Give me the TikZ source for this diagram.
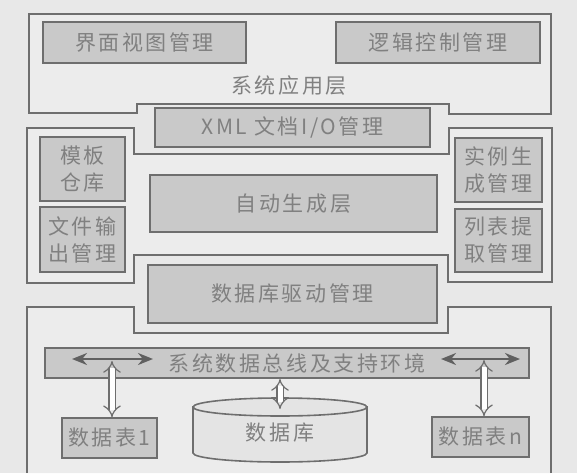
\documentclass[tikz,border=0pt]{standalone}
\usepackage{fontspec}
\newfontfamily\cjkfont[LetterSpace=12]{Noto Sans CJK SC}
\usetikzlibrary{arrows.meta}
\definecolor{bgc}{HTML}{E8E8E8}
\definecolor{outc}{HTML}{ECECEC}
\definecolor{boxc}{HTML}{C9C9C9}
\definecolor{linec}{HTML}{6E6E6E}
\definecolor{txtc}{HTML}{808080}
\definecolor{darkc}{HTML}{606060}
\definecolor{cylc}{HTML}{E4E4E4}
\tikzset{
  outer/.style={draw=linec, line width=1.6pt, fill=outc, line join=miter},
  gbox/.style={draw=linec, line width=1.6pt, fill=boxc, text=txtc,
    font=\cjkfont\fontsize{21}{27}\selectfont, inner sep=0pt, align=center},
  lbl/.style={text=txtc, font=\cjkfont\fontsize{21}{27}\selectfont, inner sep=0pt},
  hollow/.style={draw=linec, line width=1.2pt, double=white, double distance=5pt,
    {Implies}-{Implies}},
  busarrow/.style={draw=darkc, line width=2.4pt,
    {Stealth[length=15pt,width=12pt]}-{Stealth[length=15pt,width=12pt]}},
  cyl/.style={draw=linec, line width=1.6pt, fill=cylc}
}
\begin{document}
\begin{tikzpicture}[x=1pt,y=-1pt]
\fill[bgc] (0,0) rectangle (577,473);
\useasboundingbox (0,0) rectangle (577,473);
% outer layers
\path[outer] (29,14) -- (551,14) -- (551,114) -- (449,114) -- (449,104)
  -- (137,104) -- (137,113) -- (29,113) -- cycle;
\path[outer] (27,128) -- (134,128) -- (134,154) -- (449,154) -- (449,128)
  -- (552,128) -- (552,282) -- (448,282) -- (448,255) -- (134,255)
  -- (134,283) -- (27,283) -- cycle;
\fill[outc] (27,473) -- (27,307) -- (134,307) -- (134,333) -- (448,333)
  -- (448,307) -- (551,307) -- (551,473) -- cycle;
\draw[draw=linec, line width=1.6pt] (27,473) -- (27,307) -- (134,307) -- (134,333) -- (448,333)
  -- (448,307) -- (551,307) -- (551,473);
% top layer
\node[gbox, minimum width=203pt, minimum height=41pt] (view) at (144.5,42.5) {界面视图管理};
\node[gbox, minimum width=204pt, minimum height=41pt] (logic) at (438,42.5) {逻辑控制管理};
\node[lbl] (applbl) at (289,86) {系统应用层};
% middle layer
\node[gbox, minimum width=275pt, minimum height=39pt] (xml) at (292.5,127.5) {XML 文档I/O管理};
\node[gbox, minimum width=85pt, minimum height=64pt] (tpl) at (82.5,169) {模板\\仓库};
\node[gbox, minimum width=85pt, minimum height=65pt] (fout) at (82.5,239.5) {文件输\\出管理};
\node[gbox, minimum width=87pt, minimum height=64pt] (inst) at (498.5,170) {实例生\\成管理};
\node[gbox, minimum width=87pt, minimum height=63pt] (list) at (498.5,240.5) {列表提\\取管理};
\node[gbox, minimum width=287pt, minimum height=57pt] (auto) at (293.5,203.5) {自动生成层};
\node[gbox, minimum width=289pt, minimum height=58pt] (dbdrv) at (292.5,294) {数据库驱动管理};
% bottom layer
\node[gbox, minimum width=484pt, minimum height=30pt] (bus) at (287,363) {};
\node[lbl] (buslbl) at (297,363) {系统数据总线及支持环境};
\node[gbox, minimum width=95pt, minimum height=40pt] (t1) at (109.5,438) {数据表1};
\node[gbox, minimum width=97pt, minimum height=40pt] (tn) at (480.5,437) {数据表n};
% database cylinder
\path[cyl] (193,407) -- (193,453) arc[start angle=180, end angle=360, x radius=87pt, y radius=9pt] -- (367,407) -- cycle;
\path[cyl] (280,407) ellipse[x radius=87pt, y radius=9pt];
\node[lbl] (db) at (280,433) {数据库};
\coordinate (dbtop) at (280,409);
% bus arrows
\coordinate (bl1) at (72,359);
\coordinate (bl2) at (153,359);
\coordinate (br1) at (441,359);
\coordinate (br2) at (520,359);
\draw[busarrow] (bl1) -- (bl2);
\draw[busarrow] (br1) -- (br2);
\coordinate (vl) at (112,361);
\coordinate (vr) at (484,360);
\coordinate (vc) at (280,379);
\draw[hollow] (vl) -- (vl |- t1.north);
\draw[hollow] (vr) -- (vr |- tn.north);
\draw[hollow] (vc) -- (dbtop);
\end{tikzpicture}
\end{document}
